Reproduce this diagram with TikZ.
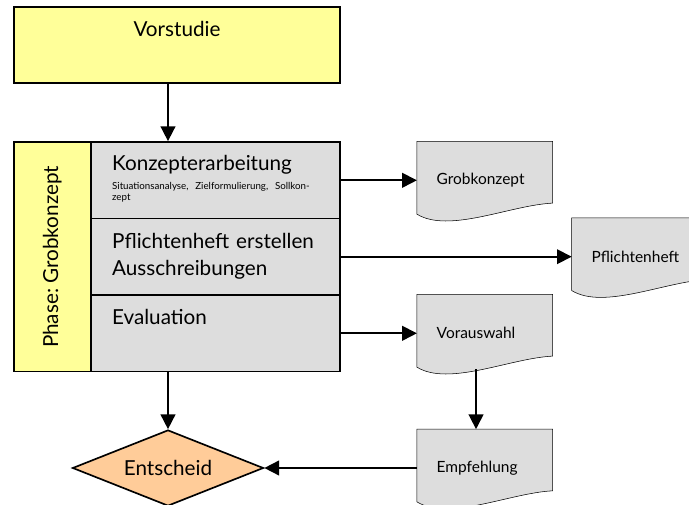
\documentclass[tikz,border=0pt]{standalone}
\usepackage{fontspec}
\setmainfont{Lato}
\usetikzlibrary{arrows.meta,shapes.geometric,backgrounds}
\definecolor{paleyellow}{HTML}{FFFF99}
\definecolor{boxgray}{HTML}{DDDDDD}
\definecolor{paleorange}{HTML}{FFCC99}
\frenchspacing

\begin{document}
\begin{tikzpicture}[x=0.75pt,y=-0.75pt,line width=1.25pt,
  arr/.style={-{Triangle[length=11pt,width=11pt]}},
  bigfont/.style={font=\fontsize{15.5}{20}\selectfont},
  taskbox/.style={draw,fill=boxgray,bigfont,minimum width=186.75pt,inner sep=0pt,
    text width=155pt,align=left,text height=22.5pt,text depth=35pt},
  docbox/.style={font=\fontsize{11.6}{13}\selectfont,minimum width=100.5pt,minimum height=57pt,
    inner xsep=14.25pt,inner ysep=0pt,text width=72pt,align=left}]
\clip (0,0) rectangle (689,505);
\node[draw,fill=paleyellow,bigfont,minimum width=244.5pt,inner sep=0pt,
  text height=22pt,text depth=35pt] (vor) at (177,45.3) {Vorstudie};
\node[taskbox,text height=21.3pt,text depth=36.2pt] (konz) at (215.5,180.3)
  {Konzepterarbeitung\\[-6pt]\parbox[t]{155pt}{\raggedright\frenchspacing\fontsize{7.3}{8.8}\selectfont
  Situationsanalyse, Zielformulierung, Sollkon-\\zept}};
\node[taskbox] (plicht) at (215.5,256.7) {Pflichtenheft erstellen\\Ausschreibungen};
\node[taskbox] (eval) at (215.5,333.3) {Evaluation};
\node[draw,fill=paleyellow,bigfont,rotate=90,minimum width=172pt,minimum height=57.3pt,
  inner sep=0pt] (phase) at (52.4,257) {Phase: Grobkonzept};
\node[docbox] (grob) at (484.7,180.3) {Grobkonzept};
\node[docbox] (pheft) at (639.5,256.7) {Pflichtenheft};
\node[docbox] (vaus) at (484.7,333.3) {Vorauswahl};
\node[docbox] (empf) at (484.7,468) {Empfehlung};
\node[draw,fill=paleorange,bigfont,diamond,aspect=2.5,minimum width=143.25pt,
  minimum height=57pt,inner sep=0pt] (ent) at (168,468) {Entscheid};
% document outlines with wavy bottom
\begin{scope}[on background layer]
\foreach \n in {grob,pheft,vaus,empf}
  \draw[fill=boxgray] (\n.north west) -- (\n.north east) -- ([yshift=12pt]\n.south east)
    .. controls ([xshift=-31.5pt,yshift=10.5pt]\n.south east) and ([xshift=24pt,yshift=-11pt]\n.south west)
    .. ([yshift=3.75pt]\n.south west) -- cycle;
\end{scope}
\draw[arr] (vor.south -| ent.north) -- (konz.north -| ent.north);
\draw[arr] (eval.south -| ent.north) -- (ent.north);
\draw[arr] (konz.east) -- (grob.west);
\draw[arr] (plicht.east) -- (pheft.west);
\draw[arr] (eval.east) -- (vaus.west);
\draw[arr] ([xshift=-6.5pt,yshift=2pt]vaus.south) -- ([xshift=-6.5pt]empf.north);
\draw[arr] (empf.west) -- (ent.east);
\end{tikzpicture}
\end{document}
